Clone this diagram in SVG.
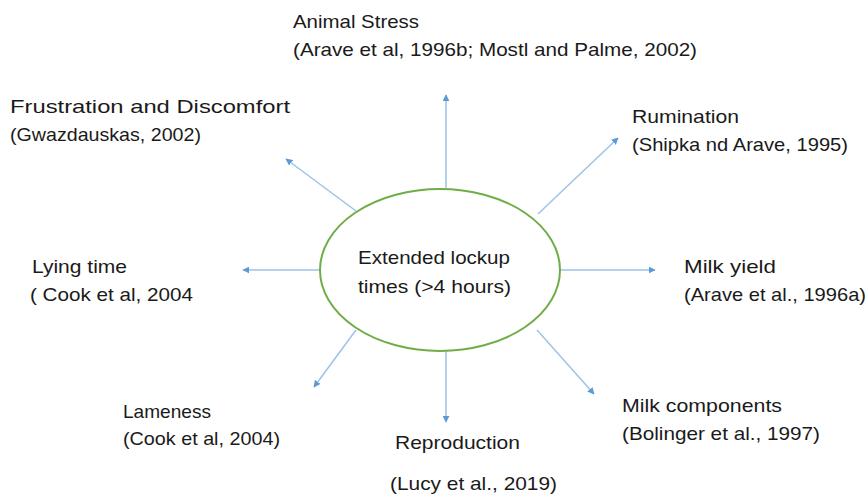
<svg xmlns="http://www.w3.org/2000/svg" width="867" height="495" viewBox="0 0 867 495">
<defs>
<marker id="ah" viewBox="0 0 10 10" refX="9" refY="5" markerWidth="7" markerHeight="7" orient="auto" markerUnits="userSpaceOnUse">
<path d="M0,0 L10,5 L0,10 z" fill="#5b9bd5"/>
</marker>
<style>
text{font-family:"Liberation Sans",Arial,sans-serif;font-size:19px;fill:#1a1a1a}
.c{stroke:#9dc3e6;stroke-width:1.5;fill:none;marker-end:url(#ah)}
</style>
</defs>
<rect width="867" height="495" fill="#fff"/>
<g id="connectors">
<line class="c" x1="446" y1="188" x2="446" y2="95"/>
<line class="c" x1="356" y1="211" x2="286" y2="159"/>
<line class="c" x1="538" y1="214" x2="618" y2="138"/>
<line class="c" x1="320" y1="270" x2="243" y2="270"/>
<line class="c" x1="561" y1="270" x2="655" y2="270"/>
<line class="c" x1="356" y1="330" x2="314" y2="387"/>
<line class="c" x1="446" y1="351" x2="446" y2="422"/>
<line class="c" x1="537" y1="330" x2="594" y2="394"/>
</g>
<g id="center">
<ellipse cx="440" cy="270" rx="120" ry="81" fill="#fff" stroke="#70ad47" stroke-width="2"/>
<text x="358" y="264" textLength="152" lengthAdjust="spacingAndGlyphs">Extended lockup</text>
<text x="358" y="293" textLength="153" lengthAdjust="spacingAndGlyphs">times (&gt;4 hours)</text>
</g>
<g id="animal-stress">
<text x="293" y="28" textLength="126" lengthAdjust="spacingAndGlyphs">Animal Stress</text>
<text x="293" y="56" textLength="404" lengthAdjust="spacingAndGlyphs">(Arave et al, 1996b; Mostl and Palme, 2002)</text>
</g>
<g id="frustration">
<text x="10" y="113" textLength="280" lengthAdjust="spacingAndGlyphs">Frustration and Discomfort</text>
<text x="10" y="141" textLength="191" lengthAdjust="spacingAndGlyphs">(Gwazdauskas, 2002)</text>
</g>
<g id="rumination">
<text x="632" y="123" textLength="107" lengthAdjust="spacingAndGlyphs">Rumination</text>
<text x="632" y="151" textLength="216" lengthAdjust="spacingAndGlyphs">(Shipka nd Arave, 1995)</text>
</g>
<g id="lying-time">
<text x="32" y="273" textLength="95" lengthAdjust="spacingAndGlyphs">Lying time</text>
<text x="30" y="301" textLength="163" lengthAdjust="spacingAndGlyphs">( Cook et al, 2004</text>
</g>
<g id="milk-yield">
<text x="684" y="273" textLength="92" lengthAdjust="spacingAndGlyphs">Milk yield</text>
<text x="684" y="301" textLength="182" lengthAdjust="spacingAndGlyphs">(Arave et al., 1996a)</text>
</g>
<g id="lameness">
<text x="123" y="418" textLength="88" lengthAdjust="spacingAndGlyphs">Lameness</text>
<text x="123" y="445" textLength="157" lengthAdjust="spacingAndGlyphs">(Cook et al, 2004)</text>
</g>
<g id="reproduction">
<text x="395" y="449" textLength="125" lengthAdjust="spacingAndGlyphs">Reproduction</text>
<text x="390" y="490" textLength="167" lengthAdjust="spacingAndGlyphs">(Lucy et al., 2019)</text>
</g>
<g id="milk-components">
<text x="622" y="412" textLength="160" lengthAdjust="spacingAndGlyphs">Milk components</text>
<text x="622" y="440" textLength="198" lengthAdjust="spacingAndGlyphs">(Bolinger et al., 1997)</text>
</g>
</svg>
